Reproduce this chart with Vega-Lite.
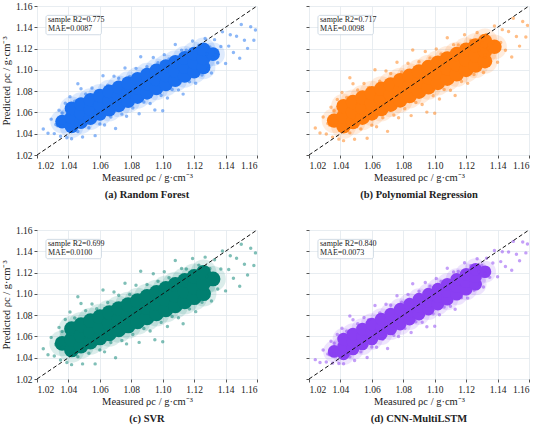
{
  "$schema": "https://vega.github.io/schema/vega-lite/v6.json",
  "description": "Measured vs predicted density for four models, 2x2 scatter panels.",
  "padding": {"left": 1, "top": 1, "right": 0, "bottom": 0},
  "config": {
    "font": "Liberation Serif",
    "view": {"stroke": null},
    "axis": {
      "domain": false,
      "grid": true,
      "gridColor": "#e2e8ee",
      "gridWidth": 0.8,
      "tickColor": "#555555",
      "tickSize": 3,
      "labelFontSize": 9.5,
      "labelColor": "#222222",
      "labelPadding": 2,
      "titleFontSize": 10.5,
      "titleFontWeight": "normal",
      "titleColor": "#222222",
      "titlePadding": 4
    },
    "axisX": {"titlePadding": 3},
    "title": {"fontSize": 10.5, "fontWeight": "bold", "orient": "bottom", "offset": 7, "color": "#222222"}
  },
  "datasets": {
    "diag": [{"x": 1.02, "y": 1.02}, {"x": 1.16, "y": 1.16}],
    "rf_stat": [{"label": ["sample R2=0.775", "MAE=0.0087"]}],
    "pr_stat": [{"label": ["sample R2=0.717", "MAE=0.0098"]}],
    "svr_stat": [{"label": ["sample R2=0.699", "MAE=0.0100"]}],
    "cnn_stat": [{"label": ["sample R2=0.840", "MAE=0.0073"]}],
    "rf_core": [
      {"x":1.036,"y":1.0514},
      {"x":1.042,"y":1.0468},{"x":1.042,"y":1.0553},{"x":1.042,"y":1.0638},
      {"x":1.048,"y":1.0508},{"x":1.048,"y":1.0593},{"x":1.048,"y":1.0678},
      {"x":1.054,"y":1.0547},{"x":1.054,"y":1.0632},{"x":1.054,"y":1.0717},
      {"x":1.060,"y":1.0587},{"x":1.060,"y":1.0672},{"x":1.060,"y":1.0757},
      {"x":1.066,"y":1.0627},{"x":1.066,"y":1.0712},{"x":1.066,"y":1.0797},
      {"x":1.072,"y":1.0666},{"x":1.072,"y":1.0751},{"x":1.072,"y":1.0836},
      {"x":1.078,"y":1.0706},{"x":1.078,"y":1.0791},{"x":1.078,"y":1.0876},
      {"x":1.084,"y":1.0745},{"x":1.084,"y":1.0830},{"x":1.084,"y":1.0915},
      {"x":1.090,"y":1.0785},{"x":1.090,"y":1.0870},{"x":1.090,"y":1.0955},
      {"x":1.096,"y":1.0825},{"x":1.096,"y":1.0910},{"x":1.096,"y":1.0995},
      {"x":1.102,"y":1.0864},{"x":1.102,"y":1.0949},{"x":1.102,"y":1.1034},
      {"x":1.108,"y":1.0904},{"x":1.108,"y":1.0989},{"x":1.108,"y":1.1074},
      {"x":1.114,"y":1.0943},{"x":1.114,"y":1.1028},{"x":1.114,"y":1.1113},
      {"x":1.120,"y":1.0983},{"x":1.120,"y":1.1068},{"x":1.120,"y":1.1153},
      {"x":1.126,"y":1.1023},{"x":1.126,"y":1.1108},{"x":1.126,"y":1.1193},
      {"x":1.132,"y":1.1147}
    ],
    "rf_pts": [
      {"x":1.024,"y":1.0444},{"x":1.027,"y":1.0404},{"x":1.029,"y":1.0537},{"x":1.031,"y":1.0401},{"x":1.032,"y":1.0487},{"x":1.034,"y":1.0620},{"x":1.035,"y":1.0377},{"x":1.036,"y":1.0474},{"x":1.038,"y":1.0687},{"x":1.039,"y":1.0363},{"x":1.041,"y":1.0747},{"x":1.042,"y":1.0353},{"x":1.044,"y":1.0706},{"x":1.046,"y":1.0420},{"x":1.048,"y":1.0823},{"x":1.049,"y":1.0369},{"x":1.051,"y":1.0773},{"x":1.053,"y":1.0456},{"x":1.055,"y":1.0829},{"x":1.057,"y":1.0382},{"x":1.058,"y":1.0799},{"x":1.060,"y":1.0492},{"x":1.062,"y":1.0945},{"x":1.063,"y":1.0482},{"x":1.065,"y":1.0855},{"x":1.067,"y":1.0558},{"x":1.069,"y":1.0941},{"x":1.070,"y":1.0448},{"x":1.072,"y":1.0921},{"x":1.074,"y":1.0584},{"x":1.076,"y":1.1018},{"x":1.077,"y":1.0564},{"x":1.079,"y":1.0937},{"x":1.081,"y":1.0641},{"x":1.083,"y":1.1014},{"x":1.085,"y":1.0587},{"x":1.086,"y":1.1124},{"x":1.088,"y":1.0697},{"x":1.090,"y":1.1030},{"x":1.092,"y":1.0683},{"x":1.094,"y":1.1116},{"x":1.095,"y":1.0623},{"x":1.097,"y":1.1066},{"x":1.099,"y":1.0759},{"x":1.101,"y":1.1143},{"x":1.103,"y":1.0736},{"x":1.104,"y":1.1102},{"x":1.106,"y":1.0816},{"x":1.108,"y":1.1239},{"x":1.110,"y":1.0812},{"x":1.112,"y":1.1185},{"x":1.113,"y":1.0772},{"x":1.115,"y":1.1185},{"x":1.117,"y":1.0888},{"x":1.119,"y":1.1271},{"x":1.121,"y":1.0875},{"x":1.123,"y":1.1228},{"x":1.125,"y":1.0951},{"x":1.127,"y":1.1294},{"x":1.129,"y":1.1007},{"x":1.130,"y":1.1214},{"x":1.132,"y":1.1117},{"x":1.133,"y":1.1284},{"x":1.135,"y":1.1067},{"x":1.137,"y":1.1220},{"x":1.138,"y":1.1357},{"x":1.140,"y":1.1060},{"x":1.142,"y":1.1223},{"x":1.143,"y":1.1330},{"x":1.145,"y":1.1163},{"x":1.147,"y":1.1316},{"x":1.149,"y":1.1109},{"x":1.150,"y":1.1426},{"x":1.152,"y":1.1279},{"x":1.154,"y":1.1202},{"x":1.156,"y":1.1406},{"x":1.158,"y":1.1279},{"x":1.159,"y":1.1375},{"x":1.131,"y":1.0971},{"x":1.134,"y":1.1170},{"x":1.036,"y":1.0594},{"x":1.033,"y":1.0474},{"x":1.128,"y":1.1151},{"x":1.046,"y":1.0870},{"x":1.100,"y":1.0616}
    ],
    "pr_core": [
      {"x":1.036,"y":1.0523},
      {"x":1.042,"y":1.0469},{"x":1.042,"y":1.0564},{"x":1.042,"y":1.0659},
      {"x":1.048,"y":1.0509},{"x":1.048,"y":1.0604},{"x":1.048,"y":1.0699},
      {"x":1.054,"y":1.0550},{"x":1.054,"y":1.0645},{"x":1.054,"y":1.0740},
      {"x":1.060,"y":1.0591},{"x":1.060,"y":1.0686},{"x":1.060,"y":1.0781},
      {"x":1.066,"y":1.0632},{"x":1.066,"y":1.0727},{"x":1.066,"y":1.0822},
      {"x":1.072,"y":1.0673},{"x":1.072,"y":1.0768},{"x":1.072,"y":1.0863},
      {"x":1.078,"y":1.0713},{"x":1.078,"y":1.0808},{"x":1.078,"y":1.0903},
      {"x":1.084,"y":1.0754},{"x":1.084,"y":1.0849},{"x":1.084,"y":1.0944},
      {"x":1.090,"y":1.0795},{"x":1.090,"y":1.0890},{"x":1.090,"y":1.0985},
      {"x":1.096,"y":1.0836},{"x":1.096,"y":1.0931},{"x":1.096,"y":1.1026},
      {"x":1.102,"y":1.0877},{"x":1.102,"y":1.0972},{"x":1.102,"y":1.1067},
      {"x":1.108,"y":1.0917},{"x":1.108,"y":1.1012},{"x":1.108,"y":1.1107},
      {"x":1.114,"y":1.0958},{"x":1.114,"y":1.1053},{"x":1.114,"y":1.1148},
      {"x":1.120,"y":1.0999},{"x":1.120,"y":1.1094},{"x":1.120,"y":1.1189},
      {"x":1.126,"y":1.1040},{"x":1.126,"y":1.1135},{"x":1.126,"y":1.1230},
      {"x":1.132,"y":1.1081},{"x":1.132,"y":1.1176},{"x":1.132,"y":1.1271},
      {"x":1.138,"y":1.1216}
    ],
    "pr_pts": [
      {"x":1.024,"y":1.0454},{"x":1.027,"y":1.0406},{"x":1.029,"y":1.0557},{"x":1.031,"y":1.0398},{"x":1.032,"y":1.0497},{"x":1.034,"y":1.0649},{"x":1.035,"y":1.0368},{"x":1.036,"y":1.0478},{"x":1.038,"y":1.0722},{"x":1.039,"y":1.0349},{"x":1.041,"y":1.0788},{"x":1.042,"y":1.0335},{"x":1.044,"y":1.0740},{"x":1.046,"y":1.0408},{"x":1.048,"y":1.0870},{"x":1.049,"y":1.0348},{"x":1.051,"y":1.0810},{"x":1.053,"y":1.0444},{"x":1.055,"y":1.0872},{"x":1.057,"y":1.0357},{"x":1.058,"y":1.0835},{"x":1.060,"y":1.0480},{"x":1.062,"y":1.1000},{"x":1.063,"y":1.0466},{"x":1.065,"y":1.0894},{"x":1.067,"y":1.0551},{"x":1.069,"y":1.0990},{"x":1.070,"y":1.0422},{"x":1.072,"y":1.0965},{"x":1.074,"y":1.0576},{"x":1.076,"y":1.1072},{"x":1.077,"y":1.0550},{"x":1.079,"y":1.0978},{"x":1.081,"y":1.0635},{"x":1.083,"y":1.1062},{"x":1.085,"y":1.0570},{"x":1.086,"y":1.1186},{"x":1.088,"y":1.0694},{"x":1.090,"y":1.1076},{"x":1.092,"y":1.0675},{"x":1.094,"y":1.1172},{"x":1.095,"y":1.0603},{"x":1.097,"y":1.1112},{"x":1.099,"y":1.0757},{"x":1.101,"y":1.1196},{"x":1.103,"y":1.0727},{"x":1.104,"y":1.1148},{"x":1.106,"y":1.0816},{"x":1.108,"y":1.1301},{"x":1.110,"y":1.0809},{"x":1.112,"y":1.1237},{"x":1.113,"y":1.0760},{"x":1.115,"y":1.1234},{"x":1.117,"y":1.0891},{"x":1.119,"y":1.1330},{"x":1.121,"y":1.0873},{"x":1.123,"y":1.1277},{"x":1.125,"y":1.0957},{"x":1.127,"y":1.1350},{"x":1.129,"y":1.1019},{"x":1.130,"y":1.1255},{"x":1.132,"y":1.1143},{"x":1.133,"y":1.1333},{"x":1.135,"y":1.1083},{"x":1.137,"y":1.1257},{"x":1.138,"y":1.1413},{"x":1.140,"y":1.1071},{"x":1.142,"y":1.1257},{"x":1.143,"y":1.1378},{"x":1.145,"y":1.1185},{"x":1.147,"y":1.1360},{"x":1.149,"y":1.1120},{"x":1.150,"y":1.1484},{"x":1.152,"y":1.1313},{"x":1.154,"y":1.1223},{"x":1.156,"y":1.1455},{"x":1.158,"y":1.1308},{"x":1.159,"y":1.1418},{"x":1.131,"y":1.0975},{"x":1.134,"y":1.1202},{"x":1.036,"y":1.0616},{"x":1.033,"y":1.0481},{"x":1.128,"y":1.1184},{"x":1.046,"y":1.0926},{"x":1.100,"y":1.0592}
    ],
    "svr_core": [
      {"x":1.036,"y":1.0535},
      {"x":1.042,"y":1.0473},{"x":1.042,"y":1.0573},{"x":1.042,"y":1.0673},
      {"x":1.048,"y":1.0510},{"x":1.048,"y":1.0610},{"x":1.048,"y":1.0710},
      {"x":1.054,"y":1.0548},{"x":1.054,"y":1.0648},{"x":1.054,"y":1.0748},
      {"x":1.060,"y":1.0586},{"x":1.060,"y":1.0686},{"x":1.060,"y":1.0786},
      {"x":1.066,"y":1.0624},{"x":1.066,"y":1.0724},{"x":1.066,"y":1.0824},
      {"x":1.072,"y":1.0662},{"x":1.072,"y":1.0762},{"x":1.072,"y":1.0862},
      {"x":1.078,"y":1.0699},{"x":1.078,"y":1.0799},{"x":1.078,"y":1.0899},
      {"x":1.084,"y":1.0737},{"x":1.084,"y":1.0837},{"x":1.084,"y":1.0937},
      {"x":1.090,"y":1.0775},{"x":1.090,"y":1.0875},{"x":1.090,"y":1.0975},
      {"x":1.096,"y":1.0813},{"x":1.096,"y":1.0913},{"x":1.096,"y":1.1013},
      {"x":1.102,"y":1.0851},{"x":1.102,"y":1.0951},{"x":1.102,"y":1.1051},
      {"x":1.108,"y":1.0888},{"x":1.108,"y":1.0988},{"x":1.108,"y":1.1088},
      {"x":1.114,"y":1.0926},{"x":1.114,"y":1.1026},{"x":1.114,"y":1.1126},
      {"x":1.120,"y":1.0964},{"x":1.120,"y":1.1064},{"x":1.120,"y":1.1164},
      {"x":1.126,"y":1.1002},{"x":1.126,"y":1.1102},{"x":1.126,"y":1.1202},
      {"x":1.132,"y":1.1140}
    ],
    "svr_pts": [
      {"x":1.024,"y":1.0484},{"x":1.027,"y":1.0428},{"x":1.029,"y":1.0591},{"x":1.031,"y":1.0416},{"x":1.032,"y":1.0522},{"x":1.034,"y":1.0685},{"x":1.035,"y":1.0379},{"x":1.036,"y":1.0497},{"x":1.038,"y":1.0760},{"x":1.039,"y":1.0354},{"x":1.041,"y":1.0829},{"x":1.042,"y":1.0335},{"x":1.044,"y":1.0773},{"x":1.046,"y":1.0410},{"x":1.048,"y":1.0910},{"x":1.049,"y":1.0342},{"x":1.051,"y":1.0842},{"x":1.053,"y":1.0442},{"x":1.055,"y":1.0905},{"x":1.057,"y":1.0342},{"x":1.058,"y":1.0861},{"x":1.060,"y":1.0473},{"x":1.062,"y":1.1036},{"x":1.063,"y":1.0455},{"x":1.065,"y":1.0918},{"x":1.067,"y":1.0542},{"x":1.069,"y":1.1018},{"x":1.070,"y":1.0399},{"x":1.072,"y":1.0987},{"x":1.074,"y":1.0562},{"x":1.076,"y":1.1099},{"x":1.077,"y":1.0530},{"x":1.079,"y":1.0993},{"x":1.081,"y":1.0618},{"x":1.083,"y":1.1081},{"x":1.085,"y":1.0544},{"x":1.086,"y":1.1212},{"x":1.088,"y":1.0675},{"x":1.090,"y":1.1088},{"x":1.092,"y":1.0650},{"x":1.094,"y":1.1188},{"x":1.095,"y":1.0569},{"x":1.097,"y":1.1119},{"x":1.099,"y":1.0732},{"x":1.101,"y":1.1207},{"x":1.103,"y":1.0694},{"x":1.104,"y":1.1151},{"x":1.106,"y":1.0788},{"x":1.108,"y":1.1313},{"x":1.110,"y":1.0776},{"x":1.112,"y":1.1239},{"x":1.113,"y":1.0720},{"x":1.115,"y":1.1233},{"x":1.117,"y":1.0857},{"x":1.119,"y":1.1333},{"x":1.121,"y":1.0833},{"x":1.123,"y":1.1270},{"x":1.125,"y":1.0921},{"x":1.127,"y":1.1345},{"x":1.129,"y":1.0983},{"x":1.130,"y":1.1239},{"x":1.132,"y":1.1115},{"x":1.133,"y":1.1321},{"x":1.135,"y":1.1046},{"x":1.137,"y":1.1234},{"x":1.138,"y":1.1402},{"x":1.140,"y":1.1028},{"x":1.142,"y":1.1228},{"x":1.143,"y":1.1359},{"x":1.145,"y":1.1147},{"x":1.147,"y":1.1334},{"x":1.149,"y":1.1072},{"x":1.150,"y":1.1466},{"x":1.152,"y":1.1278},{"x":1.154,"y":1.1178},{"x":1.156,"y":1.1428},{"x":1.158,"y":1.1266},{"x":1.159,"y":1.1385},{"x":1.131,"y":1.0933},{"x":1.134,"y":1.1177},{"x":1.036,"y":1.0647},{"x":1.033,"y":1.0503},{"x":1.128,"y":1.1164},{"x":1.046,"y":1.0973},{"x":1.100,"y":1.0550}
    ],
    "cnn_core": [
      {"x":1.036,"y":1.0459},
      {"x":1.042,"y":1.0436},{"x":1.042,"y":1.0506},{"x":1.042,"y":1.0576},
      {"x":1.048,"y":1.0482},{"x":1.048,"y":1.0552},{"x":1.048,"y":1.0622},
      {"x":1.054,"y":1.0529},{"x":1.054,"y":1.0599},{"x":1.054,"y":1.0669},
      {"x":1.060,"y":1.0576},{"x":1.060,"y":1.0646},{"x":1.060,"y":1.0716},
      {"x":1.066,"y":1.0623},{"x":1.066,"y":1.0693},{"x":1.066,"y":1.0763},
      {"x":1.072,"y":1.0670},{"x":1.072,"y":1.0740},{"x":1.072,"y":1.0810},
      {"x":1.078,"y":1.0716},{"x":1.078,"y":1.0786},{"x":1.078,"y":1.0856},
      {"x":1.084,"y":1.0763},{"x":1.084,"y":1.0833},{"x":1.084,"y":1.0903},
      {"x":1.090,"y":1.0810},{"x":1.090,"y":1.0880},{"x":1.090,"y":1.0950},
      {"x":1.096,"y":1.0857},{"x":1.096,"y":1.0927},{"x":1.096,"y":1.0997},
      {"x":1.102,"y":1.0904},{"x":1.102,"y":1.0974},{"x":1.102,"y":1.1044},
      {"x":1.108,"y":1.0950},{"x":1.108,"y":1.1020},{"x":1.108,"y":1.1090},
      {"x":1.114,"y":1.0997},{"x":1.114,"y":1.1067},{"x":1.114,"y":1.1137},
      {"x":1.120,"y":1.1044},{"x":1.120,"y":1.1114},{"x":1.120,"y":1.1184},
      {"x":1.126,"y":1.1091},{"x":1.126,"y":1.1161},{"x":1.126,"y":1.1231},
      {"x":1.132,"y":1.1208}
    ],
    "cnn_pts": [
      {"x":1.024,"y":1.0382},{"x":1.027,"y":1.0355},{"x":1.029,"y":1.0472},{"x":1.031,"y":1.0360},{"x":1.032,"y":1.0436},{"x":1.034,"y":1.0554},{"x":1.035,"y":1.0349},{"x":1.036,"y":1.0433},{"x":1.038,"y":1.0619},{"x":1.039,"y":1.0346},{"x":1.041,"y":1.0676},{"x":1.042,"y":1.0344},{"x":1.044,"y":1.0649},{"x":1.046,"y":1.0409},{"x":1.048,"y":1.0756},{"x":1.049,"y":1.0373},{"x":1.051,"y":1.0720},{"x":1.053,"y":1.0455},{"x":1.055,"y":1.0777},{"x":1.057,"y":1.0402},{"x":1.058,"y":1.0758},{"x":1.060,"y":1.0501},{"x":1.062,"y":1.0891},{"x":1.063,"y":1.0499},{"x":1.065,"y":1.0821},{"x":1.067,"y":1.0573},{"x":1.069,"y":1.0903},{"x":1.070,"y":1.0486},{"x":1.072,"y":1.0893},{"x":1.074,"y":1.0611},{"x":1.076,"y":1.0983},{"x":1.077,"y":1.0600},{"x":1.079,"y":1.0922},{"x":1.081,"y":1.0674},{"x":1.083,"y":1.0995},{"x":1.085,"y":1.0637},{"x":1.086,"y":1.1095},{"x":1.088,"y":1.0737},{"x":1.090,"y":1.1025},{"x":1.092,"y":1.0734},{"x":1.094,"y":1.1107},{"x":1.095,"y":1.0690},{"x":1.097,"y":1.1071},{"x":1.099,"y":1.0814},{"x":1.101,"y":1.1144},{"x":1.103,"y":1.0803},{"x":1.104,"y":1.1117},{"x":1.106,"y":1.0877},{"x":1.108,"y":1.1241},{"x":1.110,"y":1.0883},{"x":1.112,"y":1.1205},{"x":1.113,"y":1.0855},{"x":1.115,"y":1.1211},{"x":1.117,"y":1.0963},{"x":1.119,"y":1.1293},{"x":1.121,"y":1.0960},{"x":1.123,"y":1.1265},{"x":1.125,"y":1.1034},{"x":1.127,"y":1.1330},{"x":1.129,"y":1.1091},{"x":1.130,"y":1.1269},{"x":1.132,"y":1.1191},{"x":1.133,"y":1.1334},{"x":1.135,"y":1.1155},{"x":1.137,"y":1.1289},{"x":1.138,"y":1.1407},{"x":1.140,"y":1.1160},{"x":1.142,"y":1.1303},{"x":1.143,"y":1.1395},{"x":1.145,"y":1.1258},{"x":1.147,"y":1.1393},{"x":1.149,"y":1.1221},{"x":1.150,"y":1.1493},{"x":1.152,"y":1.1372},{"x":1.154,"y":1.1311},{"x":1.156,"y":1.1488},{"x":1.158,"y":1.1385},{"x":1.159,"y":1.1469},{"x":1.131,"y":1.1064},{"x":1.134,"y":1.1240},{"x":1.036,"y":1.0535},{"x":1.033,"y":1.0427},{"x":1.128,"y":1.1210},{"x":1.046,"y":1.0792},{"x":1.100,"y":1.0695}
    ]
  },
  "spacing": 24,
  "vconcat": [
    {
      "spacing": 46,
      "hconcat": [
        {
          "width": 220, "height": 149,
          "title": {"text": "(a) Random Forest"},
          "layer": [
            {"data": {"name": "rf_core"}, "mark": {"type": "circle", "size": 560, "opacity": 0.14, "color": "#1a6ff0", "clip": true},
             "encoding": {
               "x": {"field": "x", "type": "quantitative", "scale": {"domain": [1.02, 1.16], "nice": false}, "axis": {"values": [1.02, 1.04, 1.06, 1.08, 1.10, 1.12, 1.14, 1.16], "tickCount": 10, "format": ".2f", "title": "Measured ρc / g·cm⁻³"}},
               "y": {"field": "y", "type": "quantitative", "scale": {"domain": [1.02, 1.16], "nice": false}, "axis": {"values": [1.02, 1.04, 1.06, 1.08, 1.10, 1.12, 1.14, 1.16], "tickCount": 10, "format": ".2f", "title": "Predicted ρc / g·cm⁻³"}}
             }},
            {"data": {"name": "rf_core"}, "mark": {"type": "circle", "size": 190, "opacity": 1, "color": "#1a6ff0"},
             "encoding": {"x": {"field": "x", "type": "quantitative"}, "y": {"field": "y", "type": "quantitative"}}},
            {"data": {"name": "rf_pts"}, "mark": {"type": "circle", "size": 12, "opacity": 0.5, "color": "#1a6ff0", "clip": true},
             "encoding": {"x": {"field": "x", "type": "quantitative"}, "y": {"field": "y", "type": "quantitative"}}},
            {"data": {"name": "diag"}, "mark": {"type": "line", "strokeDash": [4, 2.5], "color": "#111111", "strokeWidth": 1},
             "encoding": {"x": {"field": "x", "type": "quantitative"}, "y": {"field": "y", "type": "quantitative"}}},
            {"data": {"name": "rf_stat"}, "mark": {"type": "rect", "fill": "white", "fillOpacity": 0.85, "stroke": "#c5d2de", "strokeWidth": 0.8, "cornerRadius": 2},
             "encoding": {"x": {"datum": 1.0257, "type": "quantitative"}, "x2": {"datum": 1.0610}, "y": {"datum": 1.1512, "type": "quantitative"}, "y2": {"datum": 1.1330}}},
            {"data": {"name": "rf_stat"}, "mark": {"type": "text", "align": "left", "baseline": "top", "fontSize": 8, "lineHeight": 8.5, "color": "#222222"},
             "encoding": {"x": {"datum": 1.027, "type": "quantitative"}, "y": {"datum": 1.1503, "type": "quantitative"}, "text": {"field": "label"}}}
          ]
        },
        {
          "width": 220, "height": 149,
          "title": {"text": "(b) Polynomial Regression"},
          "layer": [
            {"data": {"name": "pr_core"}, "mark": {"type": "circle", "size": 620, "opacity": 0.14, "color": "#ff7b0c", "clip": true},
             "encoding": {
               "x": {"field": "x", "type": "quantitative", "scale": {"domain": [1.02, 1.16], "nice": false}, "axis": {"values": [1.02, 1.04, 1.06, 1.08, 1.10, 1.12, 1.14, 1.16], "tickCount": 10, "format": ".2f", "title": "Measured ρc / g·cm⁻³"}},
               "y": {"field": "y", "type": "quantitative", "scale": {"domain": [1.02, 1.16], "nice": false}, "axis": {"values": [1.02, 1.04, 1.06, 1.08, 1.10, 1.12, 1.14, 1.16], "tickCount": 10, "labels": false, "title": null}}
             }},
            {"data": {"name": "pr_core"}, "mark": {"type": "circle", "size": 210, "opacity": 1, "color": "#ff7b0c"},
             "encoding": {"x": {"field": "x", "type": "quantitative"}, "y": {"field": "y", "type": "quantitative"}}},
            {"data": {"name": "pr_pts"}, "mark": {"type": "circle", "size": 12, "opacity": 0.5, "color": "#ff7b0c", "clip": true},
             "encoding": {"x": {"field": "x", "type": "quantitative"}, "y": {"field": "y", "type": "quantitative"}}},
            {"data": {"name": "diag"}, "mark": {"type": "line", "strokeDash": [4, 2.5], "color": "#111111", "strokeWidth": 1},
             "encoding": {"x": {"field": "x", "type": "quantitative"}, "y": {"field": "y", "type": "quantitative"}}},
            {"data": {"name": "pr_stat"}, "mark": {"type": "rect", "fill": "white", "fillOpacity": 0.85, "stroke": "#c5d2de", "strokeWidth": 0.8, "cornerRadius": 2},
             "encoding": {"x": {"datum": 1.0257, "type": "quantitative"}, "x2": {"datum": 1.0610}, "y": {"datum": 1.1512, "type": "quantitative"}, "y2": {"datum": 1.1330}}},
            {"data": {"name": "pr_stat"}, "mark": {"type": "text", "align": "left", "baseline": "top", "fontSize": 8, "lineHeight": 8.5, "color": "#222222"},
             "encoding": {"x": {"datum": 1.027, "type": "quantitative"}, "y": {"datum": 1.1503, "type": "quantitative"}, "text": {"field": "label"}}}
          ]
        }
      ]
    },
    {
      "spacing": 46,
      "hconcat": [
        {
          "width": 220, "height": 149,
          "title": {"text": "(c) SVR"},
          "layer": [
            {"data": {"name": "svr_core"}, "mark": {"type": "circle", "size": 660, "opacity": 0.14, "color": "#007f70", "clip": true},
             "encoding": {
               "x": {"field": "x", "type": "quantitative", "scale": {"domain": [1.02, 1.16], "nice": false}, "axis": {"values": [1.02, 1.04, 1.06, 1.08, 1.10, 1.12, 1.14, 1.16], "tickCount": 10, "format": ".2f", "title": "Measured ρc / g·cm⁻³"}},
               "y": {"field": "y", "type": "quantitative", "scale": {"domain": [1.02, 1.16], "nice": false}, "axis": {"values": [1.02, 1.04, 1.06, 1.08, 1.10, 1.12, 1.14, 1.16], "tickCount": 10, "format": ".2f", "title": "Predicted ρc / g·cm⁻³"}}
             }},
            {"data": {"name": "svr_core"}, "mark": {"type": "circle", "size": 220, "opacity": 1, "color": "#007f70"},
             "encoding": {"x": {"field": "x", "type": "quantitative"}, "y": {"field": "y", "type": "quantitative"}}},
            {"data": {"name": "svr_pts"}, "mark": {"type": "circle", "size": 12, "opacity": 0.5, "color": "#007f70", "clip": true},
             "encoding": {"x": {"field": "x", "type": "quantitative"}, "y": {"field": "y", "type": "quantitative"}}},
            {"data": {"name": "diag"}, "mark": {"type": "line", "strokeDash": [4, 2.5], "color": "#111111", "strokeWidth": 1},
             "encoding": {"x": {"field": "x", "type": "quantitative"}, "y": {"field": "y", "type": "quantitative"}}},
            {"data": {"name": "svr_stat"}, "mark": {"type": "rect", "fill": "white", "fillOpacity": 0.85, "stroke": "#c5d2de", "strokeWidth": 0.8, "cornerRadius": 2},
             "encoding": {"x": {"datum": 1.0257, "type": "quantitative"}, "x2": {"datum": 1.0610}, "y": {"datum": 1.1512, "type": "quantitative"}, "y2": {"datum": 1.1330}}},
            {"data": {"name": "svr_stat"}, "mark": {"type": "text", "align": "left", "baseline": "top", "fontSize": 8, "lineHeight": 8.5, "color": "#222222"},
             "encoding": {"x": {"datum": 1.027, "type": "quantitative"}, "y": {"datum": 1.1503, "type": "quantitative"}, "text": {"field": "label"}}}
          ]
        },
        {
          "width": 220, "height": 149,
          "title": {"text": "(d) CNN-MultiLSTM"},
          "layer": [
            {"data": {"name": "cnn_core"}, "mark": {"type": "circle", "size": 480, "opacity": 0.14, "color": "#8a3ff2", "clip": true},
             "encoding": {
               "x": {"field": "x", "type": "quantitative", "scale": {"domain": [1.02, 1.16], "nice": false}, "axis": {"values": [1.02, 1.04, 1.06, 1.08, 1.10, 1.12, 1.14, 1.16], "tickCount": 10, "format": ".2f", "title": "Measured ρc / g·cm⁻³"}},
               "y": {"field": "y", "type": "quantitative", "scale": {"domain": [1.02, 1.16], "nice": false}, "axis": {"values": [1.02, 1.04, 1.06, 1.08, 1.10, 1.12, 1.14, 1.16], "tickCount": 10, "labels": false, "title": null}}
             }},
            {"data": {"name": "cnn_core"}, "mark": {"type": "circle", "size": 160, "opacity": 1, "color": "#8a3ff2"},
             "encoding": {"x": {"field": "x", "type": "quantitative"}, "y": {"field": "y", "type": "quantitative"}}},
            {"data": {"name": "cnn_pts"}, "mark": {"type": "circle", "size": 12, "opacity": 0.5, "color": "#8a3ff2", "clip": true},
             "encoding": {"x": {"field": "x", "type": "quantitative"}, "y": {"field": "y", "type": "quantitative"}}},
            {"data": {"name": "diag"}, "mark": {"type": "line", "strokeDash": [4, 2.5], "color": "#111111", "strokeWidth": 1},
             "encoding": {"x": {"field": "x", "type": "quantitative"}, "y": {"field": "y", "type": "quantitative"}}},
            {"data": {"name": "cnn_stat"}, "mark": {"type": "rect", "fill": "white", "fillOpacity": 0.85, "stroke": "#c5d2de", "strokeWidth": 0.8, "cornerRadius": 2},
             "encoding": {"x": {"datum": 1.0257, "type": "quantitative"}, "x2": {"datum": 1.0610}, "y": {"datum": 1.1512, "type": "quantitative"}, "y2": {"datum": 1.1330}}},
            {"data": {"name": "cnn_stat"}, "mark": {"type": "text", "align": "left", "baseline": "top", "fontSize": 8, "lineHeight": 8.5, "color": "#222222"},
             "encoding": {"x": {"datum": 1.027, "type": "quantitative"}, "y": {"datum": 1.1503, "type": "quantitative"}, "text": {"field": "label"}}}
          ]
        }
      ]
    }
  ]
}
